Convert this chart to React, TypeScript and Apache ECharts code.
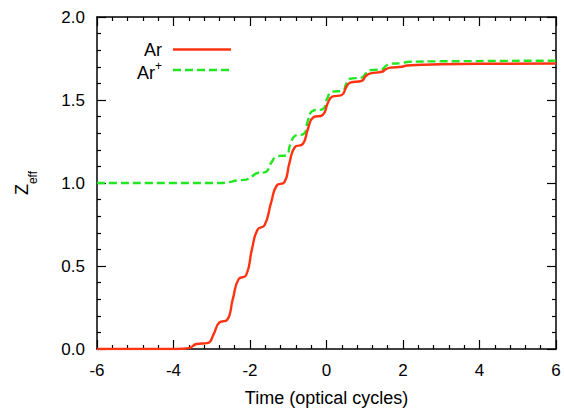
import React, { useEffect, useRef } from "react";
import * as echarts from "echarts";

// Time (optical cycles) and Z_eff readings
const arTime = [-6, -3.9, -3.6, -3.4, -3.1, -2.95, -2.8, -2.6, -2.45, -2.3, -2.1, -1.95, -1.8, -1.62, -1.45, -1.3, -1.1, -0.97, -0.83, -0.62, -0.48, -0.35, -0.1, 0.03, 0.15, 0.4, 0.52, 0.62, 0.92, 1.03, 1.15, 1.45, 1.55, 1.67, 1.97, 2.1, 2.5, 3, 4, 6];
const arZeff = [0, 0, 0.005, 0.03, 0.037, 0.09, 0.16, 0.175, 0.3, 0.42, 0.445, 0.6, 0.72, 0.745, 0.88, 0.985, 1.005, 1.12, 1.215, 1.235, 1.33, 1.395, 1.41, 1.48, 1.52, 1.53, 1.58, 1.605, 1.615, 1.645, 1.66, 1.67, 1.685, 1.695, 1.7, 1.708, 1.712, 1.715, 1.718, 1.72];

const arPlusTime = [-6, -2.8, -2.55, -2.35, -2.1, -1.95, -1.8, -1.6, -1.45, -1.3, -1.05, -0.95, -0.82, -0.6, -0.48, -0.36, -0.1, 0.02, 0.14, 0.42, 0.52, 0.62, 0.92, 1.03, 1.15, 1.45, 1.55, 1.67, 1.97, 2.15, 3, 6];
const arPlusZeff = [1.0, 1.0, 1.005, 1.015, 1.02, 1.04, 1.06, 1.065, 1.12, 1.16, 1.168, 1.23, 1.285, 1.295, 1.38, 1.435, 1.445, 1.51, 1.55, 1.555, 1.6, 1.628, 1.635, 1.66, 1.68, 1.685, 1.705, 1.718, 1.722, 1.73, 1.733, 1.737];

const seriesNames = ["Ar", "Ar+"];
const RED = "#ff3311";
const GREEN = "#22e822";
const FONT = "Liberation Sans";

export default function App() {
  const ref = useRef<HTMLDivElement>(null);
  useEffect(() => {
    if (!ref.current) return;
    const chart = echarts.init(ref.current, null, { renderer: "svg" });
    const axisLine = { show: true, onZero: false, lineStyle: { color: "#000", width: 1.5 } };
    const axisTick = { show: true, inside: true, length: 9, lineStyle: { color: "#000", width: 1.2 } };
    const minorTick = { show: true, splitNumber: 5, length: 4, lineStyle: { color: "#000", width: 1.2 } };
    const labelStyle = { color: "#000", fontSize: 17, fontFamily: FONT };
    chart.setOption({
      animation: false,
      backgroundColor: "#fff",
      grid: { left: 97, right: 8, top: 17, bottom: 67, containLabel: false },
      xAxis: [
        {
          type: "value", min: -6, max: 6, interval: 2, position: "bottom",
          axisLine, axisTick, minorTick: { ...minorTick },
          splitLine: { show: false },
          axisLabel: { ...labelStyle, margin: 13 },
          name: "Time (optical cycles)", nameLocation: "middle", nameGap: 40,
          nameTextStyle: { color: "#000", fontSize: 18, fontFamily: FONT },
        },
        {
          type: "value", min: -6, max: 6, interval: 2, position: "top",
          axisLine, axisTick, minorTick: { ...minorTick },
          splitLine: { show: false }, axisLabel: { show: false },
        },
      ],
      yAxis: [
        {
          type: "value", min: 0, max: 2, interval: 0.5, position: "left",
          axisLine, axisTick, minorTick: { ...minorTick },
          splitLine: { show: false },
          axisLabel: { ...labelStyle, margin: 12, formatter: (v: number) => v.toFixed(1) },
          name: "{z|Z}{s|eff}", nameLocation: "middle", nameGap: 58, nameRotate: 90,
          nameTextStyle: {
            color: "#000", fontFamily: FONT,
            rich: {
              z: { fontSize: 18, fontFamily: FONT, color: "#000", lineHeight: 26, verticalAlign: "top" },
              s: { fontSize: 12, fontFamily: FONT, color: "#000", lineHeight: 26, verticalAlign: "bottom" },
            },
          },
        },
        {
          type: "value", min: 0, max: 2, interval: 0.5, position: "right",
          axisLine, axisTick, minorTick: { ...minorTick },
          splitLine: { show: false }, axisLabel: { show: false },
        },
      ],
      series: [
        {
          name: seriesNames[0], type: "line", xAxisIndex: 0, yAxisIndex: 0,
          data: arTime.map((t, i) => [t, arZeff[i]]),
          showSymbol: false, smooth: 0.5,
          lineStyle: { color: RED, width: 2.4 }, z: 3,
        },
        {
          name: seriesNames[1], type: "line", xAxisIndex: 0, yAxisIndex: 0,
          data: arPlusTime.map((t, i) => [t, arPlusZeff[i]]),
          showSymbol: false, smooth: 0.5,
          lineStyle: { color: GREEN, width: 2.4, type: [8, 4] }, z: 2,
        },
      ],
      graphic: [
        {
          type: "text", x: 162, y: 50,
          style: { text: "Ar", fontSize: 18, fontFamily: FONT, fill: "#000", align: "right", verticalAlign: "middle" },
        },
        {
          type: "line", shape: { x1: 173, y1: 49.5, x2: 231, y2: 49.5 },
          style: { stroke: RED, lineWidth: 2.4 },
        },
        {
          type: "text", x: 162, y: 71,
          style: {
            text: "{a|Ar}{s|+}", align: "right", verticalAlign: "middle",
            rich: {
              a: { fontSize: 18, fontFamily: FONT, fill: "#000", lineHeight: 22, verticalAlign: "bottom" },
              s: { fontSize: 12, fontFamily: FONT, fill: "#000", lineHeight: 22, verticalAlign: "top" },
            },
          },
        },
        {
          type: "line", shape: { x1: 173, y1: 70, x2: 231, y2: 70 },
          style: { stroke: GREEN, lineWidth: 2.4, lineDash: [8, 4] },
        },
      ],
    });
    return () => chart.dispose();
  }, []);
  return <div ref={ref} style={{ position: "fixed", left: 0, top: 0, width: 564, height: 416 }} />;
}
